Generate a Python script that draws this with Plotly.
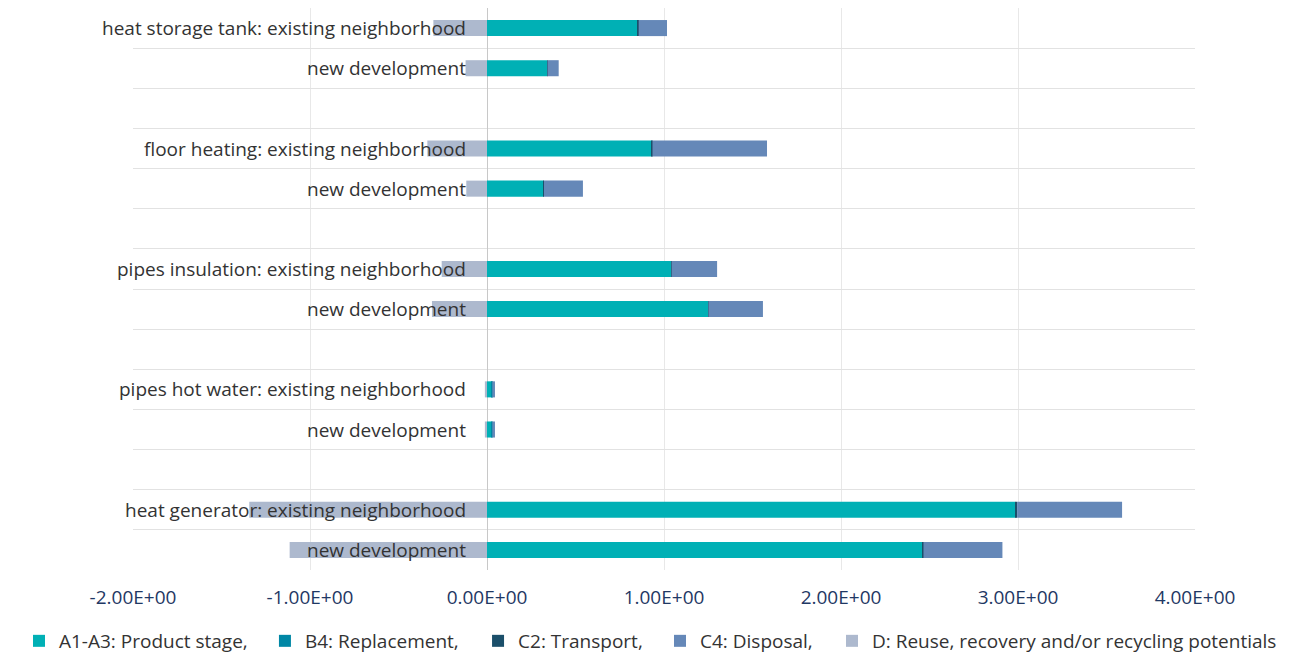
import plotly.graph_objects as go

cat_ids = ["hst_e", "hst_n", "gap1", "fh_e", "fh_n", "gap2", "pi_e", "pi_n", "gap3",
           "phw_e", "phw_n", "gap4", "hg_e", "hg_n"]
cat_labels = ["heat storage tank: existing neighborhood", "new development", "",
              "floor heating: existing neighborhood", "new development", "",
              "pipes insulation: existing neighborhood", "new development", "",
              "pipes hot water: existing neighborhood", "new development", "",
              "heat generator: existing neighborhood", "new development"]

a1_a3 = [0.853, 0.339, None, 0.932, 0.320, None, 1.041, 1.249, None, 0.028, 0.028, None, 2.985, 2.458]
b4 = [0.0, 0.0, None, 0.0, 0.0, None, 0.0, 0.0, None, 0.002, 0.002, None, 0.0, 0.0]
c2 = [0.004, 0.003, None, 0.003, 0.002, None, 0.002, 0.002, None, 0.0, 0.0, None, 0.010, 0.008]
c4 = [0.160, 0.063, None, 0.647, 0.220, None, 0.257, 0.308, None, 0.015, 0.015, None, 0.593, 0.446]
d = [-0.303, -0.121, None, -0.337, -0.117, None, -0.256, -0.311, None, -0.012, -0.012, None, -1.343, -1.115]

series_names = ["A1-A3: Product stage,", "B4: Replacement,", "C2: Transport,",
                "C4: Disposal,", "D: Reuse, recovery and/or recycling potentials"]
series_values = [a1_a3, b4, c2, c4, d]
series_colors = ["#00B0B5", "#0087A5", "#1B4F6A", "#6588B8", "#ADB9CE"]

x_ticks = [-2, -1, 0, 1, 2, 3, 4]
x_tick_text = ["-2.00E+00", "-1.00E+00", "0.00E+00", "1.00E+00", "2.00E+00", "3.00E+00", "4.00E+00"]

# one legend per series so the legend row can span the full page width
legend_left = [0.0145, 0.2024, 0.3652, 0.5042, 0.6356]
legend_keys = ["legend2", "legend3", "legend4", "legend5", "legend6"]

fig = go.Figure()
for name, vals, color, lk in zip(series_names, series_values, series_colors, legend_keys):
    fig.add_trace(go.Bar(
        y=cat_ids, x=vals, name=name, orientation="h", legend=lk,
        marker=dict(color=color, line=dict(width=0)),
    ))

for cid, lab in zip(cat_ids, cat_labels):
    if lab:
        fig.add_annotation(x=0, y=cid, xref="x", yref="y", text=lab, showarrow=False,
                           xanchor="right", xshift=-19,
                           font=dict(family="Open Sans", size=19, color="#333333"))

legend_layout = {}
for lk, lx in zip(legend_keys, legend_left):
    legend_layout[lk] = dict(orientation="h", xref="container", yref="container",
                             x=lx, xanchor="left", y=0.0229, yanchor="middle",
                             font=dict(family="Open Sans", size=19, color="#333333"),
                             itemwidth=30, bgcolor="rgba(0,0,0,0)")

fig.update_layout(
    width=1309, height=656,
    barmode="relative", bargap=0.6,
    plot_bgcolor="white", paper_bgcolor="white",
    margin=dict(l=133, r=114, t=8, b=86, autoexpand=False),
    font=dict(family="Open Sans", size=19, color="#333333"),
    xaxis=dict(range=[-2, 4], tickvals=x_ticks, ticktext=x_tick_text,
               showgrid=True, gridcolor="#E8E8E8", gridwidth=1,
               zeroline=True, zerolinecolor="#C8C8C8", zerolinewidth=1,
               tickfont=dict(family="Open Sans", size=19, color="#1F3864"),
               ticklabelstandoff=14, showline=False),
    yaxis=dict(categoryorder="array", categoryarray=cat_ids, autorange="reversed",
               showticklabels=False, tickson="boundaries", showgrid=True,
               gridcolor="#E2E2E2", gridwidth=1, ticks="", showline=False),
    **legend_layout,
)

fig.write_html("out.html", config={"displayModeBar": False},
               post_script="document.body.style.margin='0';")
